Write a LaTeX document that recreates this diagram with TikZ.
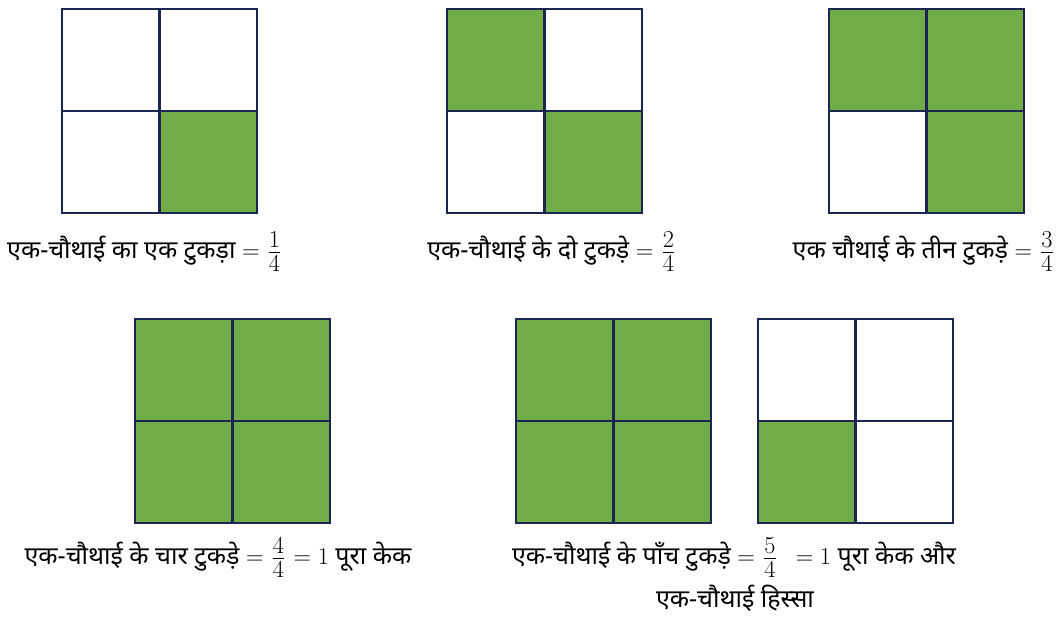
\documentclass[tikz,border=0pt]{standalone}
\usepackage{fontspec}
\newfontfamily\hindi[Script=Devanagari]{Noto Sans}
\usetikzlibrary{positioning}
\definecolor{ink}{HTML}{1B2652}
\definecolor{cake}{HTML}{70AD47}

\newcommand{\cakebox}[6]{%
  \begin{scope}[shift={(#1,#2)}]
    \fill[#3] (0,0) rectangle (97.5,102);
    \fill[#4] (97.5,0) rectangle (195,102);
    \fill[#5] (0,102) rectangle (97.5,204);
    \fill[#6] (97.5,102) rectangle (195,204);
    \draw[grid] (0,0) rectangle (195,204);
    \draw[grid] (97.5,0) -- (97.5,204) (0,102) -- (195,102);
  \end{scope}}
\newcommand{\qfrac}[1]{\mkern2mu\vcenter{\hbox{$#1$}\kern2.8pt\hrule height0.5pt\kern2.8pt\hbox{$4$}}\mkern2mu}

\begin{document}
\begin{tikzpicture}[
  x=0.025cm, y=-0.025cm,
  grid/.style={draw=ink, line width=2pt},
  lbl/.style={anchor=base, inner sep=0pt, font=\hindi\fontsize{17.8}{22}\selectfont, align=center}
]
\useasboundingbox (0,0) rectangle (1057,617);

\cakebox{62}{9}{white}{white}{white}{cake}
\cakebox{447}{9}{cake}{white}{white}{cake}
\cakebox{829}{9}{cake}{cake}{white}{cake}
\cakebox{135}{319}{cake}{cake}{cake}{cake}
\cakebox{516}{319}{cake}{cake}{cake}{cake}
\cakebox{758}{319}{white}{white}{cake}{white}

\node[lbl] (lblA) at (145,258) {एक-चौथाई का एक टुकड़ा \(=\qfrac{1}\)};
\node[lbl] (lblB) at (552,258) {एक-चौथाई के दो टुकड़े \(=\qfrac{2}\)};
\node[lbl] (lblC) at (924,258) {एक चौथाई के तीन टुकड़े \(=\qfrac{3}\)};
\node[lbl] (lblD) at (218,564) {एक-चौथाई के चार टुकड़े \(=\qfrac{4}=1\) पूरा केक};
\node[lbl] (lblE) at (734,564) {एक-चौथाई के पाँच टुकड़े \(=\qfrac{5}\;\,=1\) पूरा केक और};
\node[lbl] (lblF) at (735,607) {एक-चौथाई हिस्सा};
\end{tikzpicture}
\end{document}
